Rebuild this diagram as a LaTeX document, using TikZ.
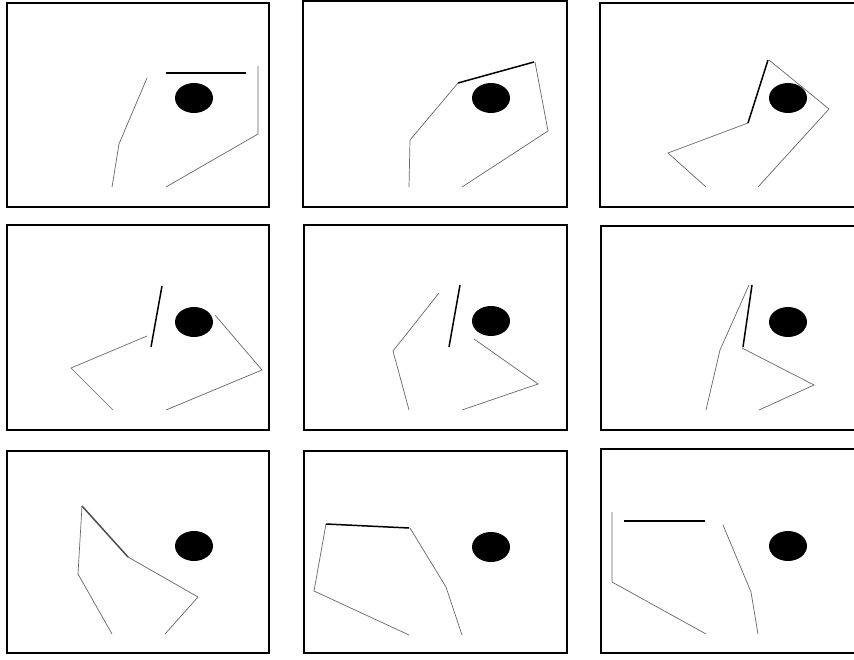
\documentclass[tikz,border=0pt]{standalone}
\begin{document}
\begin{tikzpicture}[x=1pt,y=-1pt,
  frame/.style={draw=black,line width=1.4pt},
  arm/.style={draw=black!60,line width=0.7pt,line join=miter},
  bar/.style={draw=black,line width=1.5pt},
  ball/.style={fill=black}]
\useasboundingbox (0,0) rectangle (854,660);
\clip (0,0) rectangle (854,660);
% frames
\draw[frame] (7,3) rectangle (269,207);
\draw[frame] (303,1) rectangle (567,207);
\draw[frame] (600,3) rectangle (870,207);
\draw[frame] (7,225) rectangle (269,430);
\draw[frame] (304,225) rectangle (567,430);
\draw[frame] (601,226) rectangle (870,430);
\draw[frame] (7,451) rectangle (269,653);
\draw[frame] (304,451) rectangle (567,653);
\draw[frame] (601,449) rectangle (870,653);
% panel 1
\draw[arm] (112,187) -- (119,144) -- (147,78);
\draw[bar] (166,73) -- (246,73);
\draw[arm] (258,66) -- (258,134) -- (166,187);
\fill[ball] (194,98) ellipse [x radius=19,y radius=15];
% panel 2
\draw[arm] (409,187) -- (410,140) -- (458,83);
\draw[bar] (458,83) -- (534,62);
\draw[arm] (535,62) -- (548,131) -- (462,187);
\fill[ball] (491,98) ellipse [x radius=19,y radius=15];
% panel 3
\draw[arm] (706,187) -- (668,153) -- (748,123);
\draw[bar] (748,123) -- (768,60);
\draw[arm] (769,60) -- (829,109) -- (758,187);
\fill[ball] (788,98) ellipse [x radius=19,y radius=15];
% panel 4
\draw[arm] (113,410) -- (71,368) -- (147,336);
\draw[bar] (151,347) -- (162,286);
\draw[arm] (215,315) -- (262,370) -- (166,410);
\fill[ball] (194,322) ellipse [x radius=19,y radius=15];
% panel 5
\draw[arm] (409,410) -- (393,351) -- (439,293);
\draw[bar] (449,347) -- (460,285);
\draw[arm] (474,339) -- (538,384) -- (462,410);
\fill[ball] (491,321) ellipse [x radius=19,y radius=15];
% panel 6
\draw[arm] (706,410) -- (720,350) -- (749,285);
\draw[bar] (743,347) -- (752,285);
\draw[arm] (742,348) -- (814,385) -- (759,410);
\fill[ball] (788,322) ellipse [x radius=19,y radius=15];
% panel 7
\draw[arm] (112,634) -- (78,574) -- (82,506);
\draw[bar,draw=black!70] (82,506) -- (128,557);
\draw[arm] (128,557) -- (198,597) -- (165,634);
\fill[ball] (194,546) ellipse [x radius=19,y radius=15];
% panel 8
\draw[arm] (409,635) -- (314,591) -- (326,524);
\draw[bar] (326,524) -- (409,528);
\draw[arm] (410,528) -- (446,587) -- (462,635);
\fill[ball] (491,547) ellipse [x radius=19,y radius=15];
% panel 9
\draw[arm] (706,634) -- (612,582) -- (612,512);
\draw[bar] (624,521) -- (705,521);
\draw[arm] (723,525) -- (751,592) -- (758,634);
\fill[ball] (788,546) ellipse [x radius=19,y radius=15];
\end{tikzpicture}
\end{document}
